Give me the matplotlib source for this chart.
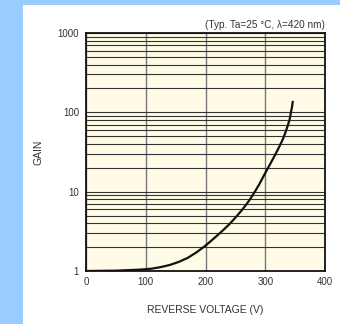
import matplotlib
matplotlib.use("Agg")
import matplotlib.pyplot as plt
from matplotlib.patches import Rectangle

plt.rcParams["font.family"] = ["Liberation Sans", "DejaVu Sans"]

# gain vs reverse voltage
voltage = [0, 50, 90, 110, 125, 140, 155, 170, 185, 200, 210, 220, 230, 240,
           250, 260, 268, 275, 283, 290, 295, 300, 305, 310, 315, 320, 325,
           330, 334, 338, 341, 343, 345, 346]
gain = [1.0, 1.01, 1.04, 1.07, 1.12, 1.19, 1.3, 1.46, 1.72, 2.09, 2.42, 2.82,
        3.3, 3.89, 4.7, 5.75, 6.85, 8.13, 10.1, 12.4, 14.6, 17.2, 20.1, 23.6,
        27.7, 32.7, 38.9, 46.8, 56.5, 69.2, 82.5, 100, 120, 135]

x_ticks = [0, 100, 200, 300, 400]
y_ticks = [1, 10, 100, 1000]
y_tick_labels = ["1", "10", "100", "1000"]

fig = plt.figure(figsize=(3.4, 3.24), dpi=100)
fig.patch.set_facecolor("#99CCFF")
fig.patches.append(Rectangle((23 / 340, 0), 317 / 340, 319 / 324,
                             transform=fig.transFigure, facecolor="white",
                             edgecolor="none", zorder=-5))

ax = fig.add_axes([86 / 340, 53 / 324, 239 / 340, 238 / 324])
ax.set_zorder(2)
ax.set_facecolor("#FFFBE6")
ax.set_yscale("log")
ax.set_xlim(0, 400)
ax.set_ylim(1, 1000)

ax.set_xticks(x_ticks)
ax.set_yticks(y_ticks)
ax.set_yticklabels(y_tick_labels)
ax.tick_params(axis="both", which="both", length=0, labelsize=7,
               labelcolor="#333333")
ax.tick_params(axis="x", pad=4)
ax.tick_params(axis="y", pad=5)

ax.grid(axis="y", which="both", color="#333333", linewidth=0.8, zorder=1)
ax.grid(axis="x", which="major", color="#777777", linewidth=1.0, zorder=1)
for spine in ax.spines.values():
    spine.set_linewidth(1.3)
    spine.set_color("#111111")

ax.plot(voltage, gain, color="#111111", linewidth=1.6, zorder=3,
        solid_joinstyle="round")

ax.set_xlabel("REVERSE VOLTAGE (V)", fontsize=7.5, color="#333333", labelpad=13)
ax.set_ylabel("GAIN", fontsize=7.5, color="#333333", labelpad=10)

fig.text(325 / 340, 1 - 25 / 324, "(Typ. Ta=25 °C, λ=420 nm)",
         ha="right", va="center", fontsize=7.2, color="#333333")

fig.savefig("out.png", dpi=100, facecolor=fig.get_facecolor())
